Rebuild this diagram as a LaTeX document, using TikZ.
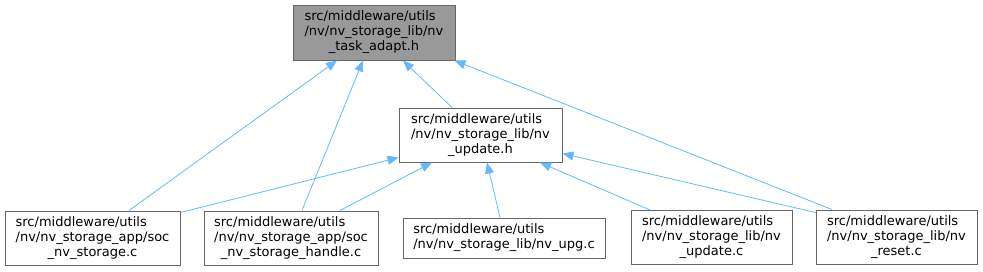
\documentclass[tikz,border=0pt]{standalone}
\usepackage{fontspec}
\setmainfont{DejaVu Sans}
\usepackage{tikz}
\usetikzlibrary{arrows.meta}

% цвета как в doxygen
\definecolor{nodeborder}{HTML}{666666}
\definecolor{nodefill}{HTML}{999999}
\definecolor{edgeblue}{HTML}{63B8FF}

% подпись файла: две строки влево, последняя по центру
\newcommand{\fname}[3]{\begin{tabular}{@{}l@{}}#1\\#2\\\multicolumn{1}{@{}c@{}}{#3}\end{tabular}}

\tikzset{
  file/.style={draw=nodeborder, line width=1pt, fill=white, inner sep=0pt,
    minimum height=54pt, font=\fontsize{13}{15}\selectfont},
  incl/.style={draw=edgeblue, line width=0.8pt, -{Triangle[length=11pt,width=9pt]}}
}

\begin{document}
\begin{tikzpicture}[x=1pt, y=-1pt]
    % рамка всей картинки
    \useasboundingbox (0,0) rectangle (983,271);

    % верхние заголовки
    \node[file, fill=nodefill, minimum width=162pt, minimum height=55pt] (adapt) at (374,32.5)
        {\fname{src/middleware/utils}{/nv/nv\_storage\_lib/nv}{\_task\_adapt.h}};
    \node[file, minimum width=163pt] (update) at (480.5,135)
        {\fname{src/middleware/utils}{/nv/nv\_storage\_lib/nv}{\_update.h}};

    % нижний ряд
    \node[file, minimum width=175pt] (socstor) at (92.5,238)
        {\fname{src/middleware/utils}{/nv/nv\_storage\_app/soc}{\_nv\_storage.c}};
    \node[file, minimum width=174pt] (sochandle) at (291,238)
        {\fname{src/middleware/utils}{/nv/nv\_storage\_app/soc}{\_nv\_storage\_handle.c}};
    \node[file, minimum width=202pt, minimum height=40pt] (upg) at (504,238)
        {\begin{tabular}{@{}l@{}}src/middleware/utils\\/nv/nv\_storage\_lib/nv\_upg.c\end{tabular}};
    \node[file, minimum width=161pt] (updatec) at (711.5,237.5)
        {\fname{src/middleware/utils}{/nv/nv\_storage\_lib/nv}{\_update.c}};
    \node[file, minimum width=161pt] (reset) at (896.5,237)
        {\fname{src/middleware/utils}{/nv/nv\_storage\_lib/nv}{\_reset.c}};

    % связи к nv_task_adapt.h
    \draw[incl] ([xshift=36.5pt]socstor.north) -- ([xshift=-37pt]adapt.south);
    \draw[incl] ([xshift=11pt]sochandle.north) -- ([xshift=-11pt]adapt.south);
    \draw[incl] ([xshift=-28.5pt]update.north) -- ([xshift=29pt]adapt.south);
    \draw[incl] ([xshift=-64.5pt]reset.north) -- ([xshift=-1pt]adapt.south east);

    % связи к nv_update.h
    \draw[incl] ([yshift=-2pt]socstor.north east) -- ([yshift=5pt]update.south west);
    \draw[incl] ([xshift=49pt]sochandle.north) -- ([xshift=-48.5pt]update.south);
    \draw[incl] ([xshift=-4pt]upg.north) -- ([xshift=6.5pt]update.south);
    \draw[incl] ([xshift=-61.5pt]updatec.north) -- ([xshift=59.5pt]update.south);
    \draw[incl] ([yshift=-3pt]reset.north west) -- ([yshift=9pt]update.south east);
\end{tikzpicture}
\end{document}
